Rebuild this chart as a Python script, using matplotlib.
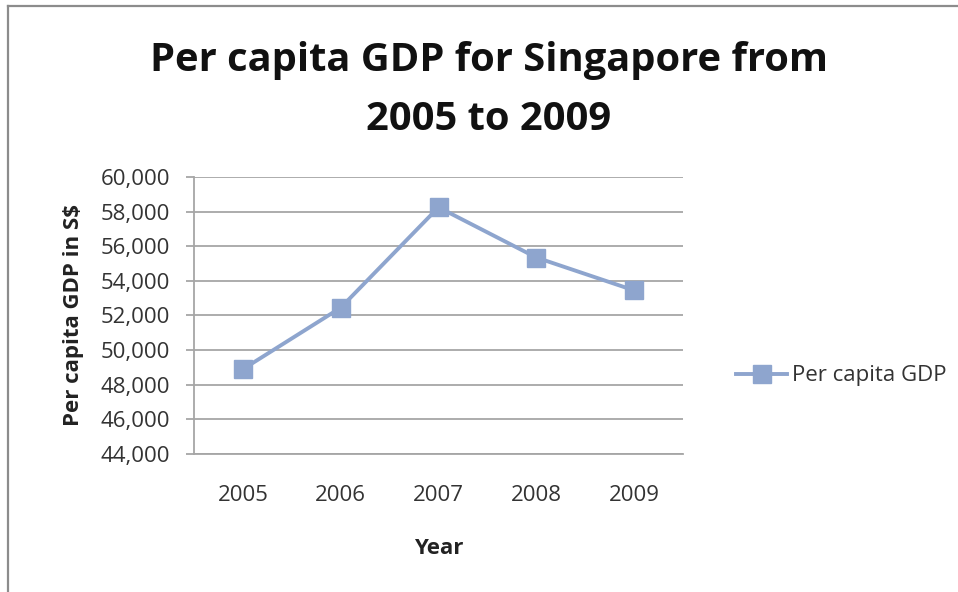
import matplotlib
matplotlib.use('agg')
import matplotlib.pyplot as plt
from matplotlib.lines import Line2D
from matplotlib import ticker

######## data ########
years = ['2005', '2006', '2007', '2008', '2009']
gdp = [48900, 52450, 58250, 55350, 53450]
series_name = 'Per capita GDP'

plt.rcParams['font.family'] = ['Open Sans', 'DejaVu Sans']

line_col = '#8EA5CE'
grid_col = '#A6A6A6'
W, H = 958, 592
fs = 16

fig = plt.figure(figsize=(W/100.0, H/100.0), dpi=100)
fig.patch.set_facecolor('white')

# plot area in pixels: left 194, right 683, top 177, bottom 454
ax = fig.add_axes([194.0/W, 1-454.0/H, (683.0-194)/W, (454.0-177)/H])
x = list(range(len(years)))
ax.plot(x, gdp, color=line_col, lw=2.8, marker='s', ms=13, mfc=line_col, mec=line_col, label=series_name)

ax.set_xlim(-0.5, len(years)-0.5)
ax.set_ylim(44000, 60000)
ax.yaxis.set_major_locator(ticker.MultipleLocator(2000))
ax.yaxis.set_major_formatter(ticker.FuncFormatter(lambda v, p: '{:,.0f}'.format(v)))
ax.set_xticks(x)
ax.set_xticklabels(years)
ax.grid(axis='y', color=grid_col, lw=1.3)
ax.set_axisbelow(True)
for s in ['top', 'right']:
    ax.spines[s].set_visible(False)
ax.spines['left'].set_color(grid_col)
ax.spines['left'].set_linewidth(1.3)
ax.spines['bottom'].set_color(grid_col)
ax.spines['bottom'].set_linewidth(1.3)
ax.tick_params(axis='y', length=6, width=1.3, color=grid_col, labelsize=fs, labelcolor='#333333', pad=11)
ax.tick_params(axis='x', length=0, labelsize=fs, labelcolor='#333333', pad=22)

ax.set_xlabel('Year', fontsize=fs, fontweight='bold', color='#222222', labelpad=23)
ax.set_ylabel('Per capita GDP in S$', fontsize=fs, fontweight='bold', color='#222222', labelpad=12)

fig.text(489.0/W, 1-90.0/H, 'Per capita GDP for Singapore from\n2005 to 2009', ha='center', va='center',
         fontsize=28.7, fontweight='bold', color='#111111', linespacing=1.68)

leg = ax.legend(loc='center left', bbox_to_anchor=(716.0/W, 1-376.0/H), bbox_transform=fig.transFigure,
                frameon=False, fontsize=fs, handlelength=2.3, handletextpad=0.2, markerscale=0.95)
for t in leg.get_texts():
    t.set_color('#333333')

# chart border (cut at right and bottom)
fig.add_artist(Line2D([8.0/W, 8.0/W], [0, 1-6.0/H], transform=fig.transFigure, color='#8C8C8C', lw=1.6))
fig.add_artist(Line2D([8.0/W, 1], [1-6.0/H, 1-6.0/H], transform=fig.transFigure, color='#8C8C8C', lw=1.6))

fig.savefig('out.png', dpi=100)
